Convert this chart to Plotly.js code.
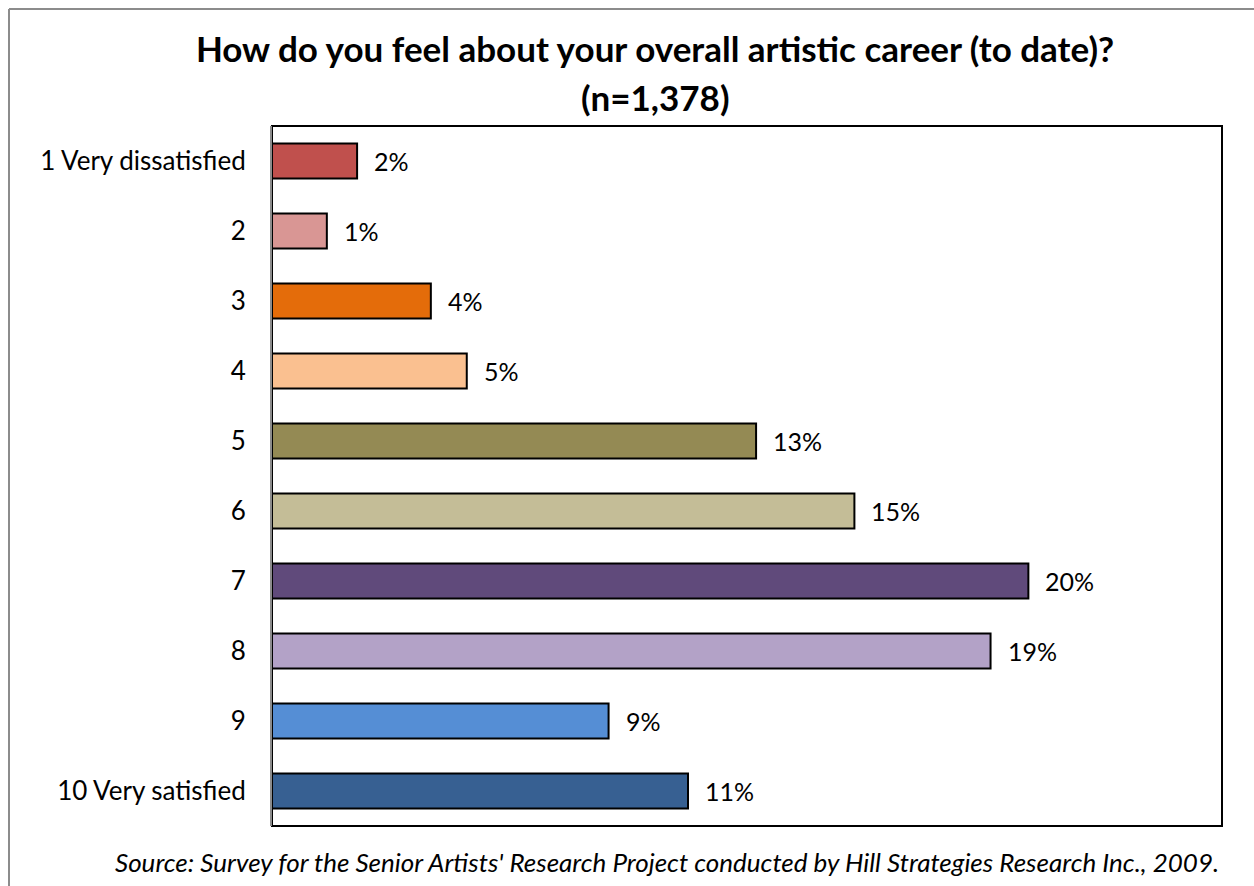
<!DOCTYPE html>
<html>
<head>
<meta charset="utf-8">
<script src="https://cdn.plot.ly/plotly-3.0.1.min.js"></script>
<style>html,body{margin:0;padding:0;background:#fff;}#chart{width:1254px;height:886px;}</style>
</head>
<body>
<div id="chart"></div>
<script>
const categories = ["1 Very dissatisfied", "2", "3", "4", "5", "6", "7", "8", "9", "10 Very satisfied"];
const shares = [0.0225, 0.0145, 0.042, 0.0515, 0.128, 0.154, 0.200, 0.190, 0.089, 0.110];
const barColors = ["#C0504D", "#D99694", "#E46C0A", "#FAC090", "#948A54", "#C4BD97", "#604A7B", "#B3A2C7", "#558ED5", "#376092"];
const titleLine1 = "How do you feel about your overall artistic career (to date)?";
const titleLine2 = "(n=1,378)";
const sourceText = "Source: Survey for the Senior Artists' Research Project conducted by Hill Strategies Research Inc., 2009.";

const W = 1254, H = 886;
const L = 272, R = 1222, T = 126, B = 826;
const pw = R - L, ph = B - T;
const px = v => (v - L) / pw;
const py = v => (B - v) / ph;
const FONT = "Lato, 'Open Sans', sans-serif";

const trace = {
  type: "bar",
  orientation: "h",
  x: shares,
  y: categories,
  marker: { color: barColors, line: { color: "#000000", width: 2 } },
  hoverinfo: "none"
};

const valueLabels = shares.map((v, i) => ({
  x: v, y: i, xref: "x", yref: "y",
  text: Math.round(v * 100) + "%",
  showarrow: false, xanchor: "left", yanchor: "middle", xshift: 15,
  font: { family: FONT, size: 25, color: "#000" }
}));

const layout = {
  width: W, height: H,
  margin: { l: L, r: W - R, t: T, b: H - B, pad: 0 },
  paper_bgcolor: "#ffffff",
  plot_bgcolor: "#ffffff",
  showlegend: false,
  bargap: 0.5,
  title: {
    text: "<b>" + titleLine1 + "</b>",
    x: 655 / W, xref: "container", xanchor: "center",
    y: 1 - 50 / H, yref: "container", yanchor: "middle",
    font: { family: FONT, size: 35, color: "#000" }
  },
  xaxis: {
    range: [0, 0.2512],
    showticklabels: false, ticks: "", showgrid: false, zeroline: false, showline: false
  },
  yaxis: {
    type: "category",
    categoryorder: "array", categoryarray: categories,
    autorange: "reversed",
    showgrid: false, zeroline: false,
    showline: true, linecolor: "#8c8c8c", linewidth: 2,
    ticks: "", ticklabelstandoff: 19,
    tickfont: { family: FONT, size: 26, color: "#000" }
  },
  shapes: [
    { type: "rect", xref: "paper", yref: "paper", x0: 0, x1: 1, y0: 0, y1: 1,
      line: { color: "#000", width: 2 }, layer: "below" },
    { type: "line", xref: "paper", yref: "paper", x0: px(9), x1: px(9), y0: py(9), y1: py(900),
      line: { color: "#8c8c8c", width: 2 } },
    { type: "line", xref: "paper", yref: "paper", x0: px(9), x1: px(1260), y0: py(9), y1: py(9),
      line: { color: "#8c8c8c", width: 2 } }
  ],
  annotations: [
    { text: "<b>" + titleLine2 + "</b>", xref: "paper", yref: "paper",
      x: px(655), y: py(97), xanchor: "center", yanchor: "middle", showarrow: false,
      font: { family: FONT, size: 35, color: "#000" } },
    { text: "<i>" + sourceText + "</i>", xref: "paper", yref: "paper",
      x: px(1221), y: py(862), xanchor: "right", yanchor: "middle", showarrow: false,
      font: { family: FONT, size: 26, color: "#000" } }
  ].concat(valueLabels)
};

Plotly.newPlot("chart", [trace], layout, { displayModeBar: false, staticPlot: true });
</script>
</body>
</html>
